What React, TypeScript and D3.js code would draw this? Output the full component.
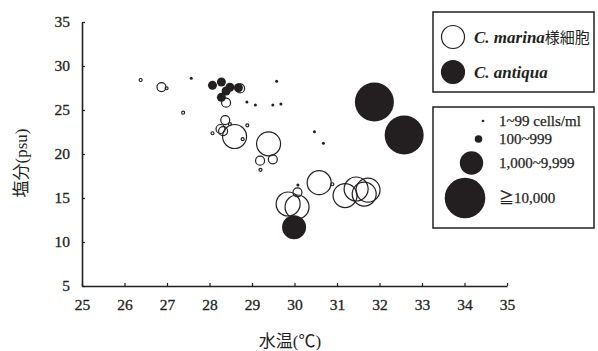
import React, { useEffect, useRef } from 'react';
import * as d3 from 'd3';

// C. marina-like cells (open circles): temperature, salinity, density class
const marinaTemp = [26.38, 26.87, 26.99, 27.38, 28.72, 28.39, 28.37, 28.26, 28.32, 28.48, 28.07, 28.89, 28.78, 28.59, 29.39, 29.19, 29.49, 29.2, 29.85, 30.06, 30.07, 30.58, 30.89, 31.19, 31.45, 31.64, 31.73];
const marinaSal = [28.41, 27.6, 27.47, 24.7, 27.45, 25.83, 23.86, 22.84, 22.6, 23.4, 22.36, 23.26, 21.68, 21.99, 21.16, 19.24, 19.4, 18.2, 14.32, 13.98, 15.65, 16.74, 16.56, 15.28, 16.02, 15.45, 15.9];
const marinaClass = [1, 2, 1, 1, 2, 2, 2, 2, 2, 1, 1, 1, 1, 3, 3, 2, 2, 1, 3, 3, 2, 3, 1, 3, 3, 3, 3];

// C. antiqua (filled circles)
const antiquaTemp = [28.07, 28.28, 28.39, 28.48, 28.68, 28.28, 29.99, 31.88, 32.58, 27.57, 28.88, 29.08, 29.49, 29.68, 29.58, 30.47, 30.68, 30.08];
const antiquaSal = [27.8, 28.18, 27.16, 27.58, 27.53, 26.44, 11.67, 25.91, 22.16, 28.6, 25.91, 25.57, 25.57, 25.68, 28.26, 22.53, 21.22, 16.48];
const antiquaClass = [2, 2, 2, 2, 2, 2, 3, 4, 4, 1, 1, 1, 1, 1, 1, 1, 1, 1];

const xTicks = [25, 26, 27, 28, 29, 30, 31, 32, 33, 34, 35];
const yTicks = [5, 10, 15, 20, 25, 30, 35];
const sizeLabels = ['1~99 cells/ml', '100~999', '1,000~9,999', '≧10,000'];
const speciesLabels = [
  { name: 'C. marina', suffix: '様細胞', filled: false },
  { name: 'C. antiqua', suffix: '', filled: true },
];

const INK = '#231f20';
const SERIF = '"Liberation Serif", Tinos, "DejaVu Serif", serif';
const CJK = '"Noto Sans CJK JP", sans-serif';

const App = () => {
  const svgRef = useRef<SVGSVGElement>(null);
  const width = 598;
  const height = 351;

  useEffect(() => {
    const svg = d3.select(svgRef.current);
    svg.selectAll('*').remove();

    const margin = { top: 22, left: 82 };
    const innerWidth = 425;
    const innerHeight = 264;

    const x = d3.scaleLinear().domain([25, 35]).range([0, innerWidth]);
    const y = d3.scaleLinear().domain([5, 35]).range([innerHeight, 0]);
    const r = d3.scaleOrdinal<number, number>().domain([1, 2, 3, 4]).range([1.5, 4.5, 12, 19.5]);

    const g = svg.append('g').attr('transform', `translate(${margin.left},${margin.top})`);

    // Axes
    const xAxis = g.append('g')
      .attr('transform', `translate(0,${innerHeight})`)
      .call(d3.axisBottom(x).tickValues(xTicks).tickSize(-3).tickPadding(13).tickSizeOuter(0));
    const yAxis = g.append('g')
      .call(d3.axisLeft(y).tickValues(yTicks).tickSize(-3).tickPadding(12).tickSizeOuter(0));

    [xAxis, yAxis].forEach(ax => {
      ax.attr('font-family', null);
      ax.select('.domain').attr('stroke', INK).attr('stroke-width', 1.6);
      ax.selectAll('.tick line').attr('stroke', INK).attr('stroke-width', 1.2);
      ax.selectAll('.tick text')
        .attr('fill', INK)
        .attr('stroke', INK)
        .attr('stroke-width', 0.3)
        .style('font-family', SERIF)
        .style('font-size', '15.5px');
    });

    // Axis titles
    const xTitle = svg.append('text')
      .attr('x', 290)
      .attr('y', 347)
      .attr('text-anchor', 'middle')
      .attr('fill', INK)
      .style('font-size', '17px');
    xTitle.append('tspan').style('font-family', CJK).text('水温');
    xTitle.append('tspan').style('font-family', SERIF).text('(');
    xTitle.append('tspan').style('font-family', CJK).text('℃');
    xTitle.append('tspan').style('font-family', SERIF).text(')');

    const yTitle = svg.append('text')
      .attr('transform', `translate(27,163) rotate(-90)`)
      .attr('text-anchor', 'middle')
      .attr('fill', INK)
      .style('font-size', '17px');
    yTitle.append('tspan').style('font-family', CJK).text('塩分');
    yTitle.append('tspan').style('font-family', SERIF).text('(psu)');

    // Open circles (C. marina-like cells)
    marinaTemp.forEach((t, i) => {
      g.append('circle')
        .attr('cx', x(t))
        .attr('cy', y(marinaSal[i]))
        .attr('r', r(marinaClass[i]))
        .attr('fill', 'none')
        .attr('stroke', INK)
        .attr('stroke-width', 1.2);
    });

    // Filled circles (C. antiqua)
    antiquaTemp.forEach((t, i) => {
      g.append('circle')
        .attr('cx', x(t))
        .attr('cy', y(antiquaSal[i]))
        .attr('r', r(antiquaClass[i]))
        .attr('fill', INK);
    });

    // Species legend
    const leg1 = svg.append('g');
    leg1.append('rect')
      .attr('x', 433).attr('y', 12).attr('width', 161).attr('height', 80)
      .attr('fill', 'white').attr('stroke', INK).attr('stroke-width', 1.5);
    speciesLabels.forEach((s, i) => {
      const cy = 37 + i * 35;
      leg1.append('circle')
        .attr('cx', 453).attr('cy', cy).attr('r', 11.5)
        .attr('fill', s.filled ? INK : 'white')
        .attr('stroke', INK).attr('stroke-width', 1.2);
      const txt = leg1.append('text')
        .attr('x', 474).attr('y', cy + 6)
        .attr('fill', INK)
        .style('font-size', '17px');
      txt.append('tspan')
        .style('font-family', SERIF)
        .style('font-weight', 'bold')
        .style('font-style', 'italic')
        .text(s.name);
      if (s.suffix) {
        txt.append('tspan')
          .style('font-family', CJK)
          .style('font-size', '15px')
          .text(s.suffix);
      }
    });

    // Size legend
    const leg2 = svg.append('g');
    leg2.append('rect')
      .attr('x', 433).attr('y', 107).attr('width', 161).attr('height', 121)
      .attr('fill', 'white').attr('stroke', INK).attr('stroke-width', 1.5);
    const legCx = [483, 478.5, 471.5, 465];
    const legCy = [121, 139, 163, 198];
    const legR = [1.3, 3.8, 11.7, 20.3];
    sizeLabels.forEach((lab, i) => {
      leg2.append('circle')
        .attr('cx', legCx[i]).attr('cy', legCy[i]).attr('r', legR[i])
        .attr('fill', INK);
      const t = leg2.append('text')
        .attr('x', 499).attr('y', legCy[i] + 5)
        .attr('fill', INK)
        .attr('stroke', INK)
        .attr('stroke-width', 0.25)
        .style('font-size', '15px');
      if (i === 3) {
        t.append('tspan').style('font-family', CJK).text(lab.slice(0, 1));
        t.append('tspan').style('font-family', SERIF).text(lab.slice(1));
      } else {
        t.style('font-family', SERIF).text(lab);
      }
    });
  }, []);

  return (
    <svg
      ref={svgRef}
      width={width}
      height={height}
      style={{ position: 'absolute', left: 0, top: 0, background: 'white' }}
    />
  );
};

export default App;
